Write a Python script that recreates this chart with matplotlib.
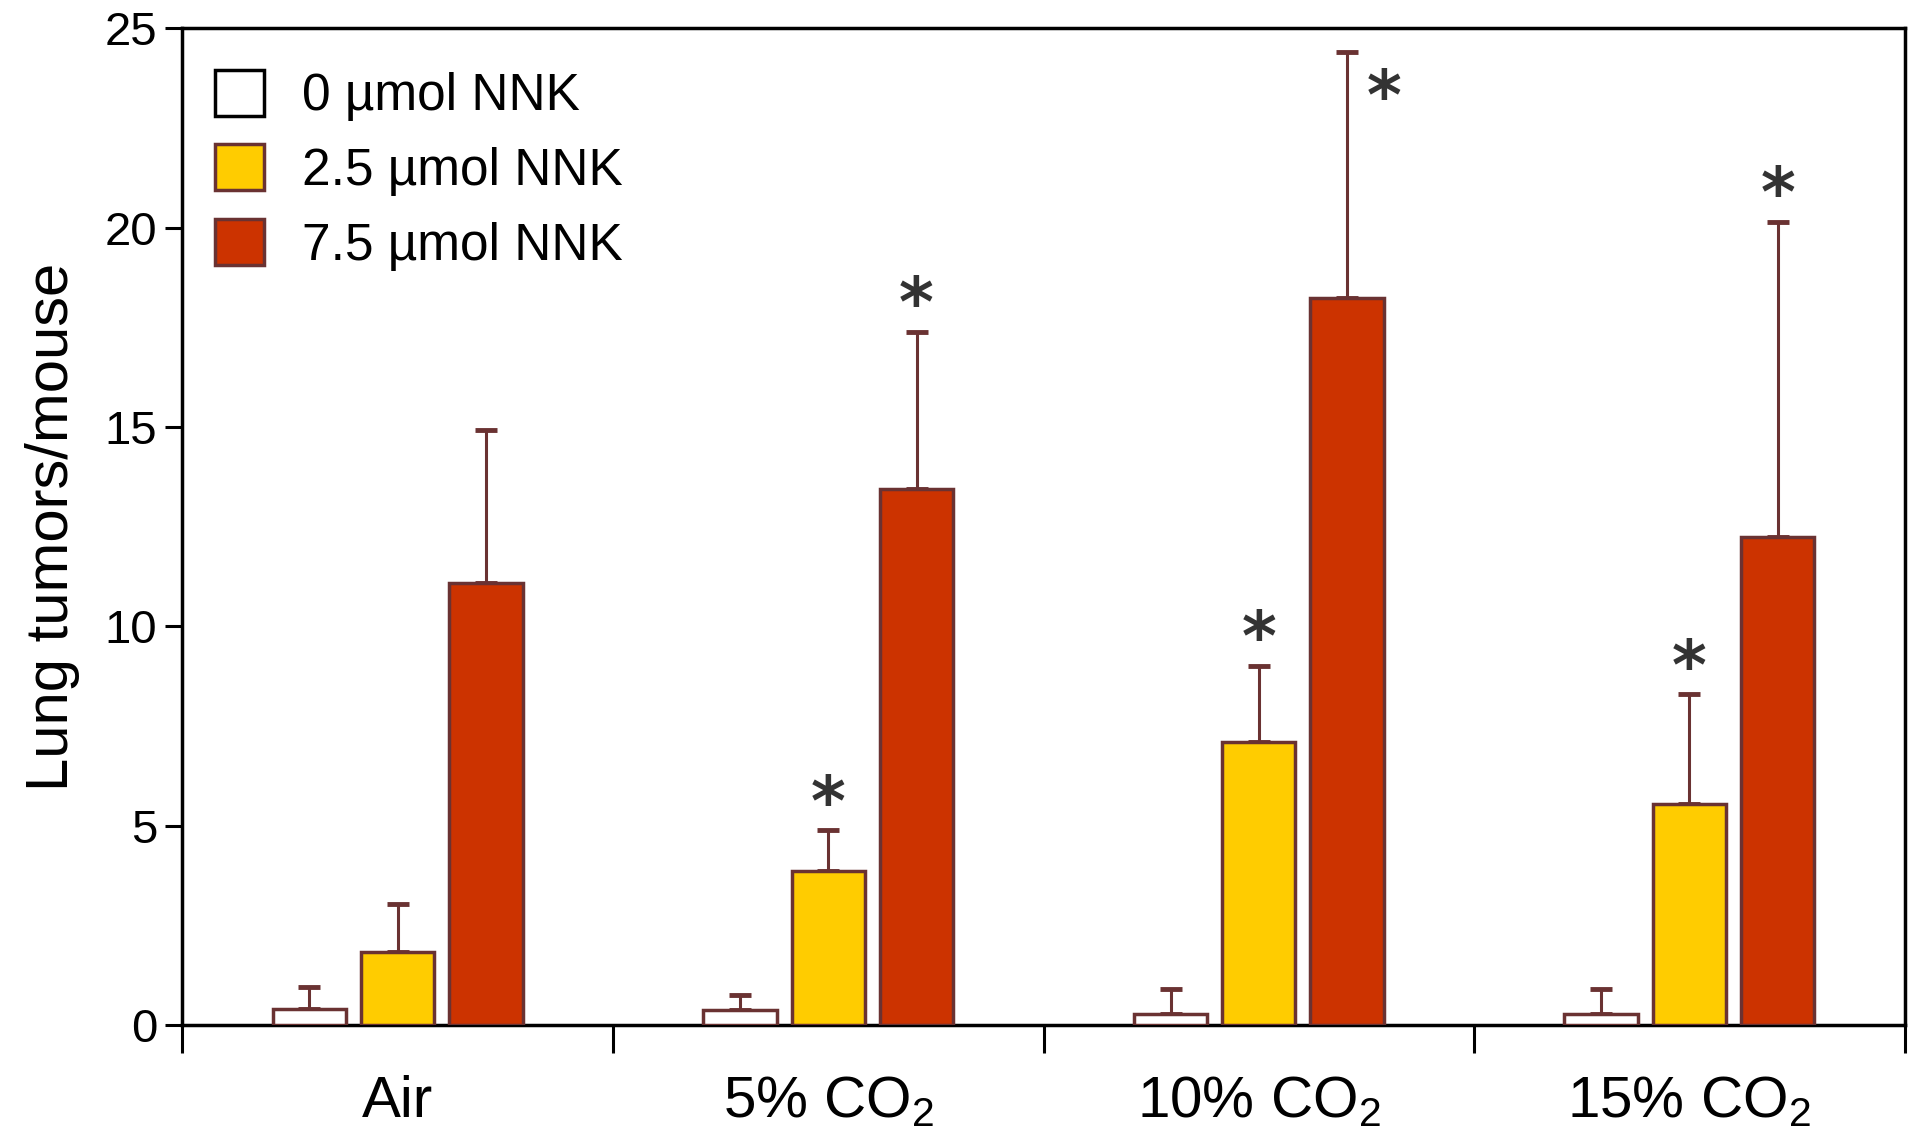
import matplotlib
matplotlib.use("Agg")
import matplotlib.pyplot as plt
import numpy as np
from matplotlib.patches import Patch

plt.rcParams['font.family'] = ['Liberation Sans Narrow', 'Liberation Sans', 'DejaVu Sans']
plt.rcParams['mathtext.default'] = 'regular'

groups = ['Air', '5% CO$_2$', '10% CO$_2$', '15% CO$_2$']
series = ['0 µmol NNK', '2.5 µmol NNK', '7.5 µmol NNK']
means = [
    [0.40, 0.37, 0.28, 0.28],    # 0 umol
    [1.84, 3.87, 7.09, 5.53],    # 2.5 umol
    [11.09, 13.45, 18.24, 12.25],  # 7.5 umol
]
errs = [
    [0.55, 0.37, 0.61, 0.61],
    [1.20, 1.01, 1.91, 2.76],
    [3.84, 3.93, 6.16, 7.90],
]
# significance markers: (series index, group index)
stars = [(1, 1), (2, 1), (1, 2), (2, 2), (1, 3), (2, 3)]

fills = ['white', '#FFCC00', '#CC3300']
edge = '#6A3232'
offsets = [-0.205, 0.0, 0.205]
width = 0.17

fig = plt.figure(figsize=(19.2, 11.35), dpi=100)
ax = fig.add_axes([0.095, 0.097, 0.897, 0.878])

centers = np.arange(len(groups)) + 0.5
for s in range(3):
    x = centers + offsets[s]
    ax.bar(x, means[s], width, color=fills[s], edgecolor=edge, linewidth=2.5, zorder=3)
    ax.errorbar(x, means[s], yerr=[np.zeros(4), errs[s]], fmt='none', ecolor=edge,
                elinewidth=2.2, capsize=8, capthick=3.5, zorder=2)

for s, g in stars:
    top = means[s][g] + errs[s][g]
    xs = centers[g] + offsets[s]
    if top > 23:
        ax.text(xs + 0.085, top - 1.2, '*', ha='center', va='center', fontsize=48,
                fontweight='bold', color='#333333', family='DejaVu Sans')
    else:
        ax.text(xs, top + 0.62, '*', ha='center', va='center', fontsize=48,
                fontweight='bold', color='#333333', family='DejaVu Sans')

ax.set_xlim(0, 4)
ax.set_ylim(0, 25)
ax.set_yticks([0, 5, 10, 15, 20, 25])
ax.set_xticks([0, 1, 2, 3, 4])
ax.set_xticklabels([])
ax.set_xticks(centers, minor=True)
ax.set_xticklabels(groups, minor=True, fontsize=42)
ax.tick_params(axis='x', which='minor', length=0, pad=36)
ax.tick_params(axis='x', which='major', length=20, width=2.2, direction='out')
ax.tick_params(axis='y', length=12, width=2.2, labelsize=34, pad=6)
for sp in ax.spines.values():
    sp.set_linewidth(2.5)
ax.set_ylabel('Lung tumors/mouse', fontsize=43, family=['Liberation Sans', 'DejaVu Sans'], labelpad=18)

handles = [Patch(facecolor=fills[i], edgecolor=edge if i else 'black', linewidth=2.5) for i in range(3)]
ax.legend(handles, series, loc='upper left', bbox_to_anchor=(-0.008, 1.005), frameon=False,
          fontsize=37, handlelength=0.95, handleheight=1.0, labelspacing=0.45, handletextpad=0.75)

fig.savefig('out.png', dpi=100)
